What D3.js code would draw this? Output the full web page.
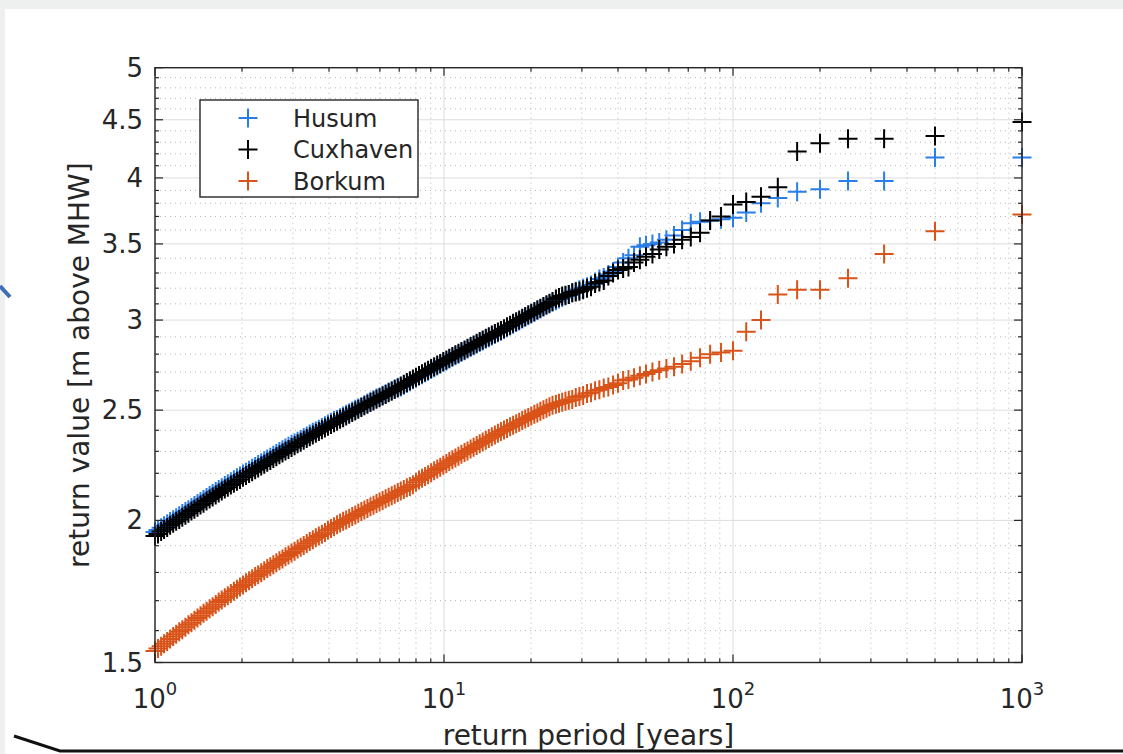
<!DOCTYPE html>
<html><head><meta charset="utf-8">
<script src="https://cdn.jsdelivr.net/npm/d3@7"></script>
<style>
body{margin:0;background:#fff}
svg{display:block}
text{font-family:"DejaVu Sans",sans-serif;fill:#262626}
</style>
</head><body>
<svg id="chart" width="1123" height="754"></svg>
<script>
// Return periods (years) shared by all three stations
const periods = [
1.000,1.024,1.050,1.075,1.102,1.128,1.156,1.184,1.213,1.243,1.274,1.305,1.337,1.369,1.403,1.437,1.472,1.508,1.545,1.583,
1.622,1.661,1.702,1.744,1.786,1.830,1.875,1.921,1.968,2.016,2.065,2.116,2.168,2.221,2.275,2.331,2.388,2.446,2.506,2.567,
2.630,2.695,2.761,2.828,2.897,2.968,3.041,3.115,3.192,3.270,3.350,3.432,3.516,3.602,3.690,3.780,3.873,3.967,4.064,4.164,
4.266,4.370,4.477,4.587,4.699,4.814,4.932,5.052,5.176,5.302,5.433,5.566,5.702,5.841,5.984,6.131,6.281,6.434,6.592,6.753,
6.918,7.087,7.261,7.438,7.621,7.807,7.998,8.194,8.395,8.600,8.810,9.026,9.247,9.473,9.705,9.943,10.19,10.43,10.69,10.95,
11.22,11.49,11.78,12.06,12.36,12.66,12.97,13.29,13.61,13.95,14.29,14.64,15.00,15.37,15.74,16.13,16.52,16.93,17.34,17.77,
18.20,18.65,19.10,19.57,20.04,20.54,21.04,21.55,22.08,22.62,23.17,23.74,
24.39,25,25.64,26.32,27.03,27.78,28.57,29.41,30.3,31.25,32.26,33.33,34.48,35.71,37.04,38.46,40,41.67,43.48,45.45,
47.62,50,52.63,55.56,58.82,62.5,66.67,71.43,76.92,83.33,90.91,100,111.1,125,142.9,166.7,200,250,333.3,500,1000];

const husum = [
1.953,1.961,1.970,1.978,1.986,1.995,2.003,2.011,2.019,2.028,2.036,2.044,2.053,2.061,2.069,2.078,2.086,2.095,2.103,2.112,
2.120,2.129,2.137,2.146,2.154,2.163,2.171,2.180,2.188,2.197,2.205,2.214,2.222,2.231,2.239,2.248,2.256,2.265,2.273,2.282,
2.290,2.299,2.307,2.316,2.324,2.333,2.339,2.348,2.356,2.365,2.373,2.382,2.390,2.397,2.405,2.414,2.422,2.431,2.439,2.448,
2.453,2.462,2.470,2.479,2.487,2.496,2.504,2.511,2.519,2.528,2.536,2.545,2.553,2.562,2.567,2.576,2.584,2.593,2.601,2.610,
2.618,2.620,2.629,2.639,2.648,2.658,2.667,2.677,2.686,2.696,2.705,2.715,2.724,2.734,2.743,2.753,2.762,2.772,2.781,2.791,
2.800,2.810,2.819,2.829,2.838,2.848,2.857,2.867,2.876,2.886,2.895,2.905,2.914,2.924,2.933,2.943,2.954,2.964,2.975,2.985,
2.995,3.006,3.016,3.027,3.037,3.047,3.058,3.068,3.079,3.089,3.099,3.110,
3.12,3.13,3.14,3.15,3.16,3.17,3.18,3.19,3.20,3.21,3.22,3.24,3.26,3.27,3.29,3.31,3.34,3.37,3.40,3.42,
3.48,3.49,3.50,3.51,3.53,3.56,3.60,3.65,3.66,3.67,3.68,3.69,3.73,3.80,3.84,3.89,3.91,3.975,3.975,4.17,4.17];

const cuxhaven = [
1.938,1.946,1.955,1.963,1.971,1.980,1.988,1.996,2.004,2.013,2.021,2.029,2.038,2.046,2.054,2.063,2.071,2.080,2.088,2.097,
2.105,2.114,2.122,2.131,2.139,2.148,2.156,2.165,2.173,2.182,2.190,2.199,2.207,2.216,2.224,2.233,2.241,2.250,2.258,2.267,
2.275,2.284,2.292,2.301,2.309,2.318,2.326,2.335,2.343,2.352,2.360,2.369,2.377,2.386,2.394,2.403,2.411,2.420,2.428,2.437,
2.445,2.454,2.462,2.471,2.479,2.488,2.496,2.505,2.513,2.522,2.530,2.539,2.547,2.556,2.564,2.573,2.581,2.590,2.598,2.607,
2.615,2.625,2.634,2.644,2.653,2.663,2.672,2.682,2.691,2.701,2.710,2.720,2.729,2.739,2.748,2.758,2.767,2.777,2.786,2.796,
2.805,2.815,2.824,2.834,2.843,2.853,2.862,2.872,2.881,2.891,2.900,2.910,2.919,2.929,2.938,2.948,2.959,2.969,2.980,2.990,
3.000,3.011,3.021,3.032,3.042,3.052,3.063,3.073,3.084,3.094,3.104,3.115,
3.13,3.14,3.15,3.155,3.16,3.17,3.175,3.18,3.19,3.20,3.21,3.23,3.24,3.25,3.28,3.30,3.32,3.33,3.34,3.37,
3.39,3.41,3.43,3.46,3.48,3.50,3.53,3.55,3.58,3.67,3.70,3.79,3.81,3.85,3.925,4.22,4.29,4.33,4.33,4.355,4.48];

const borkum = [
1.535,1.543,1.550,1.558,1.565,1.573,1.581,1.588,1.596,1.603,1.611,1.619,1.626,1.634,1.641,1.649,1.657,1.664,1.672,1.679,
1.687,1.695,1.702,1.710,1.717,1.725,1.733,1.740,1.748,1.755,1.763,1.770,1.777,1.785,1.792,1.799,1.806,1.814,1.821,1.828,
1.836,1.843,1.850,1.858,1.865,1.872,1.879,1.887,1.894,1.901,1.909,1.916,1.923,1.931,1.938,1.945,1.952,1.960,1.967,1.974,
1.982,1.989,1.996,2.002,2.009,2.016,2.022,2.029,2.036,2.042,2.049,2.056,2.062,2.069,2.076,2.082,2.089,2.096,2.102,2.109,
2.116,2.122,2.129,2.136,2.142,2.150,2.160,2.170,2.178,2.186,2.194,2.202,2.211,2.219,2.227,2.236,2.244,2.253,2.261,2.269,
2.277,2.286,2.294,2.302,2.311,2.319,2.327,2.336,2.344,2.352,2.361,2.369,2.377,2.386,2.394,2.402,2.409,2.417,2.425,2.432,
2.440,2.448,2.456,2.463,2.471,2.479,2.486,2.494,2.502,2.509,2.517,2.525,
2.53,2.535,2.54,2.545,2.55,2.555,2.565,2.57,2.575,2.585,2.59,2.60,2.605,2.615,2.62,2.63,2.64,2.655,2.66,2.67,
2.68,2.69,2.70,2.71,2.72,2.73,2.745,2.76,2.78,2.80,2.81,2.82,2.93,3.00,3.16,3.19,3.19,3.265,3.43,3.59,3.715];

const seriesNames = ["Husum", "Cuxhaven", "Borkum"];
const seriesColors = ["#2a7ee8", "#000000", "#d95319"];
const yTickValues = [1.5, 2, 2.5, 3, 3.5, 4, 4.5, 5];
const yTickLabels = ["1.5", "2", "2.5", "3", "3.5", "4", "4.5", "5"];
const xTickValues = [1, 10, 100, 1000];
const xTickExponents = ["0", "1", "2", "3"];
const xLabel = "return period [years]";
const yLabel = "return value [m above MHW]";

const svg = d3.select("#chart");
const W = 1123, H = 754;
const L = 155, R = 1022, T = 67.7, B = 662.5;

svg.append("rect").attr("width", W).attr("height", H).attr("fill", "#fff");
// slide frame remnants
svg.append("rect").attr("x", 0).attr("y", 0).attr("width", W).attr("height", 9).attr("fill", "#eef0ef");
svg.append("rect").attr("x", 0).attr("y", 0).attr("width", 5).attr("height", H).attr("fill", "#eef0ef");
svg.append("line").attr("x1", 0).attr("y1", 286).attr("x2", 10).attr("y2", 297)
  .attr("stroke", "#3d6fb5").attr("stroke-width", 4);

const x = d3.scaleLog().domain([1, 1000]).range([L, R]);
const y = d3.scaleLog().domain([1.5, 5]).range([B, T]);

const xMinor = x.ticks().filter(v => !xTickValues.includes(v));
const yMinor = d3.range(16, 50).map(v => v / 10).filter(v => !yTickValues.includes(v));

const g = svg.append("g");
// minor grid
g.selectAll(".xmg").data(xMinor).join("line")
  .attr("x1", d => x(d)).attr("x2", d => x(d)).attr("y1", T).attr("y2", B)
  .attr("stroke", "#b5b5b5").attr("stroke-width", 1).attr("stroke-dasharray", "1,4");
g.selectAll(".ymg").data(yMinor).join("line")
  .attr("y1", d => y(d)).attr("y2", d => y(d)).attr("x1", L).attr("x2", R)
  .attr("stroke", "#b5b5b5").attr("stroke-width", 1).attr("stroke-dasharray", "1,4");
// major grid
g.selectAll(".xg").data(xTickValues).join("line")
  .attr("x1", d => x(d)).attr("x2", d => x(d)).attr("y1", T).attr("y2", B)
  .attr("stroke", "#dcdcdc").attr("stroke-width", 1);
g.selectAll(".yg").data(yTickValues).join("line")
  .attr("y1", d => y(d)).attr("y2", d => y(d)).attr("x1", L).attr("x2", R)
  .attr("stroke", "#dcdcdc").attr("stroke-width", 1);

// data markers
const plus = "M-9.5,0H9.5M0,-9.5V9.5";
const allSeries = [husum, cuxhaven, borkum];
allSeries.forEach((vals, si) => {
  svg.append("g").selectAll("path").data(periods.map((p, i) => [p, vals[i]])).join("path")
    .attr("d", plus)
    .attr("transform", d => `translate(${x(d[0])},${y(d[1])})`)
    .attr("stroke", seriesColors[si]).attr("stroke-width", 2).attr("fill", "none");
});

// axes with inward ticks on all four sides
const axisColor = "#262626";
const ax = svg.append("g");
[[B, -1], [T, 1]].forEach(([yy, dir]) => {
  ax.selectAll(null).data(xTickValues).join("line")
    .attr("x1", d => x(d)).attr("x2", d => x(d)).attr("y1", yy).attr("y2", yy + dir * 8)
    .attr("stroke", axisColor).attr("stroke-width", 1.2);
  ax.selectAll(null).data(xMinor).join("line")
    .attr("x1", d => x(d)).attr("x2", d => x(d)).attr("y1", yy).attr("y2", yy + dir * 4)
    .attr("stroke", axisColor).attr("stroke-width", 1.2);
});
[[L, 1], [R, -1]].forEach(([xx, dir]) => {
  ax.selectAll(null).data(yTickValues).join("line")
    .attr("y1", d => y(d)).attr("y2", d => y(d)).attr("x1", xx).attr("x2", xx + dir * 8)
    .attr("stroke", axisColor).attr("stroke-width", 1.2);
  ax.selectAll(null).data(yMinor).join("line")
    .attr("y1", d => y(d)).attr("y2", d => y(d)).attr("x1", xx).attr("x2", xx + dir * 4)
    .attr("stroke", axisColor).attr("stroke-width", 1.2);
});
ax.append("rect").attr("x", L).attr("y", T).attr("width", R - L).attr("height", B - T)
  .attr("fill", "none").attr("stroke", axisColor).attr("stroke-width", 1.4);

// tick labels
ax.selectAll(".yl").data(yTickValues).join("text")
  .attr("x", L - 12).attr("y", d => y(d) + 9)
  .attr("text-anchor", "end").attr("font-size", 26)
  .text((d, i) => yTickLabels[i]);
const xl = ax.selectAll(".xl").data(xTickValues).join("text")
  .attr("x", d => x(d)).attr("y", 708)
  .attr("text-anchor", "middle").attr("font-size", 26);
xl.append("tspan").text("10");
xl.append("tspan").attr("dy", -13).attr("font-size", 18).text((d, i) => xTickExponents[i]);

// axis titles
svg.append("text").attr("x", (L + R) / 2).attr("y", 745).attr("text-anchor", "middle")
  .attr("font-size", 28).text(xLabel);
svg.append("text").attr("transform", `translate(89,${(T + B) / 2}) rotate(-90)`)
  .attr("text-anchor", "middle").attr("font-size", 28).text(yLabel);

// legend
const lg = svg.append("g");
lg.append("rect").attr("x", 200).attr("y", 100).attr("width", 218).attr("height", 97)
  .attr("fill", "#fff").attr("stroke", axisColor).attr("stroke-width", 1.4);
seriesNames.forEach((name, i) => {
  const cy = 118 + i * 31.5;
  lg.append("path").attr("d", plus).attr("transform", `translate(248,${cy})`)
    .attr("stroke", seriesColors[i]).attr("stroke-width", 2);
  lg.append("text").attr("x", 293).attr("y", cy + 8.5).attr("font-size", 24).text(name);
});

// bottom slide edge
svg.append("path").attr("d", "M14,736 L60,751 L1123,751").attr("stroke", "#111").attr("stroke-width", 3).attr("fill", "none");
</script>
</body></html>
